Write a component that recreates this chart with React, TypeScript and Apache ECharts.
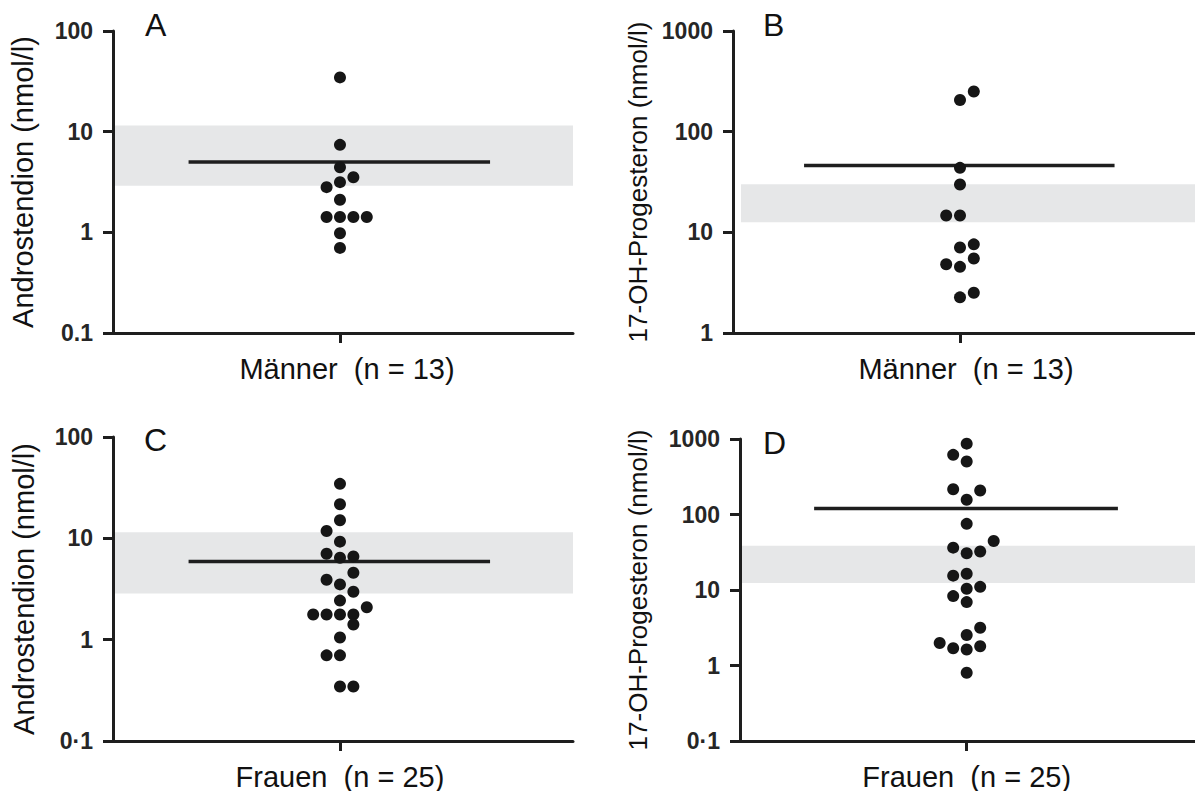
import React, { useEffect, useRef } from 'react';
import * as echarts from 'echarts';

// ---- data ----
const panelLetters = ['A', 'B', 'C', 'D'];
const groupLabels = ['Männer  (n = 13)', 'Männer  (n = 13)', 'Frauen  (n = 25)', 'Frauen  (n = 25)'];
const yTitles = ['Androstendion (nmol/l)', '17-OH-Progesteron (nmol/l)', 'Androstendion (nmol/l)', '17-OH-Progesteron (nmol/l)'];

const yTicksA = ['0.1', '1', '10', '100'];
const yTicksB = ['1', '10', '100', '1000'];
const yTicksC = ['0·1', '1', '10', '100'];
const yTicksD = ['0·1', '1', '10', '100', '1000'];
const yRangeA = [0.1, 100];
const yRangeB = [1, 1000];
const yRangeC = [0.1, 100];
const yRangeD = [0.1, 1000];

// values (nmol/l) and beeswarm column offsets
const valuesA = [34.6, 7.4, 4.43, 3.53, 3.15, 2.81, 2.11, 1.42, 1.42, 1.42, 1.42, 0.98, 0.7];
const slotsA = [0, 0, 0, 1, 0, -1, 0, -1, 0, 1, 2, 0, 0];
const valuesB = [251, 206, 43.7, 29.9, 14.7, 14.7, 7.6, 7.06, 5.49, 4.82, 4.54, 2.51, 2.26];
const slotsB = [1, 0, 0, 0, -1, 0, 1, 0, 1, -1, 0, 1, 0];
const valuesC = [34.5, 21.7, 15.1, 11.8, 9.27, 7.05, 6.44, 6.63, 4.57, 3.9, 3.51, 2.97, 2.43, 2.09, 1.77, 1.77, 1.77, 1.77, 1.41, 1.05, 0.7, 0.7, 0.345, 0.345];
const slotsC = [0, 0, 0, -1, 0, -1, 0, 1, 1, -1, 0, 1, 0, 2, -2, -1, 0, 1, 1, 0, -1, 0, 0, 1];
const valuesD = [868, 617, 504, 216, 208, 157, 75.2, 44.6, 36.4, 30.7, 32.3, 15.5, 16.4, 11.0, 10.4, 8.3, 6.92, 3.16, 2.53, 1.99, 1.69, 1.63, 1.8, 0.8];
const slotsD = [0, -1, 0, -1, 1, 0, 0, 2, -1, 0, 1, -1, 0, 1, 0, -1, 0, 1, 0, -2, -1, 0, 1, 0];

const meansAll = [5.0, 46, 5.9, 120];
const bandA = [2.9, 11.5];
const bandB = [12.6, 30];
const bandC = [2.85, 11.5];
const bandD = [12.4, 38.7];
const meanSpan = [-11.3, 11.2];

// ---- layout (not data) ----
const layout = [
  { left: 113, top: 31, width: 460, height: 302, xMin: -16.94, xMax: 17.39, bandX: null as number | null, nameGap: 76, titleSize: 29, letter: [145, 9], labelPad: 14 },
  { left: 733, top: 31, width: 462, height: 302, xMin: -16.45, xMax: 17.03, bandX: -15.87 as number | null, nameGap: 82, titleSize: 26, letter: [763, 9], labelPad: 12 },
  { left: 113, top: 437, width: 460, height: 305, xMin: -16.94, xMax: 17.39, bandX: null as number | null, nameGap: 75, titleSize: 29, letter: [144, 424], labelPad: 0 },
  { left: 740, top: 439, width: 455, height: 304, xMin: -16.79, xMax: 16.91, bandX: null as number | null, nameGap: 89, titleSize: 26, letter: [763, 427], labelPad: 0 },
];

const FONT = '"Liberation Sans", Arial, Helvetica, sans-serif';
const NARROW = '"Liberation Sans Narrow", "Arial Narrow", "Liberation Sans", sans-serif';
const INK = '#1e1e1e';

export default function App() {
  const ref = useRef<HTMLDivElement>(null);

  useEffect(() => {
    if (!ref.current) return;
    const chart = echarts.init(ref.current, null, { renderer: 'svg' });

    const values = [valuesA, valuesB, valuesC, valuesD];
    const slots = [slotsA, slotsB, slotsC, slotsD];
    const ticks = [yTicksA, yTicksB, yTicksC, yTicksD];
    const ranges = [yRangeA, yRangeB, yRangeC, yRangeD];
    const bands = [bandA, bandB, bandC, bandD];

    const grid = layout.map((p) => ({ left: p.left, top: p.top, width: p.width, height: p.height }));

    const xAxis = layout.map((p, i) => ({
      type: 'value',
      gridIndex: i,
      min: p.xMin,
      max: p.xMax,
      z: 10,
      axisLine: { show: true, onZero: false, lineStyle: { color: INK, width: 3 } },
      axisTick: { show: true, customValues: [0], length: 10, lineStyle: { color: INK, width: 3 } },
      axisLabel: {
        show: true,
        customValues: [0],
        formatter: () => groupLabels[i],
        fontSize: 29,
        fontFamily: FONT,
        color: '#111',
        margin: 21,
        padding: [0, 0, 0, p.labelPad],
      },
      splitLine: { show: false },
    }));

    const yAxis = layout.map((p, i) => ({
      type: 'log',
      logBase: 10,
      gridIndex: i,
      min: ranges[i][0],
      max: ranges[i][1],
      z: 10,
      axisLine: { show: true, onZero: false, lineStyle: { color: INK, width: 3 } },
      axisTick: { show: true, length: 10, lineStyle: { color: INK, width: 3 } },
      minorTick: { show: false },
      axisLabel: {
        formatter: (v: number) => {
          const idx = Math.round(Math.log10(v) - Math.log10(ranges[i][0]));
          return ticks[i][idx] ?? '';
        },
        fontSize: 23,
        fontWeight: 'bold',
        fontFamily: NARROW,
        color: '#262626',
        margin: 20,
      },
      splitLine: { show: false },
      name: yTitles[i],
      nameLocation: 'middle',
      nameRotate: 90,
      nameGap: p.nameGap,
      nameTextStyle: { fontSize: p.titleSize, fontFamily: FONT, color: '#111' },
    }));

    const series: any[] = [];
    layout.forEach((p, i) => {
      const b = bands[i];
      const areaData =
        p.bandX !== null
          ? [[{ xAxis: p.bandX, yAxis: b[0] }, { xAxis: p.xMax, yAxis: b[1] }]]
          : [[{ yAxis: b[0] }, { yAxis: b[1] }]];
      series.push({
        type: 'line',
        xAxisIndex: i,
        yAxisIndex: i,
        data: [
          [meanSpan[0], meansAll[i]],
          [meanSpan[1], meansAll[i]],
        ],
        symbol: 'none',
        lineStyle: { color: INK, width: 3.5 },
        z: 2,
        silent: true,
        markArea: { silent: true, itemStyle: { color: '#e6e7e8', opacity: 1 }, data: areaData },
      });
      series.push({
        type: 'scatter',
        xAxisIndex: i,
        yAxisIndex: i,
        data: values[i].map((v, j) => [slots[i][j], v]),
        symbol: 'circle',
        symbolSize: 12,
        itemStyle: { color: '#161616', opacity: 1 },
        z: 3,
      });
    });

    const graphic = layout.map((p, i) => ({
      type: 'text',
      left: p.letter[0],
      top: p.letter[1],
      style: { text: panelLetters[i], fontSize: 32, fontFamily: FONT, fill: '#111' },
    }));

    chart.setOption({
      animation: false,
      backgroundColor: '#fff',
      grid,
      xAxis,
      yAxis,
      series,
      graphic,
    });

    return () => chart.dispose();
  }, []);

  return (
    <div
      ref={ref}
      style={{ position: 'fixed', left: 0, top: 0, width: 1195, height: 791, background: '#fff' }}
    />
  );
}
